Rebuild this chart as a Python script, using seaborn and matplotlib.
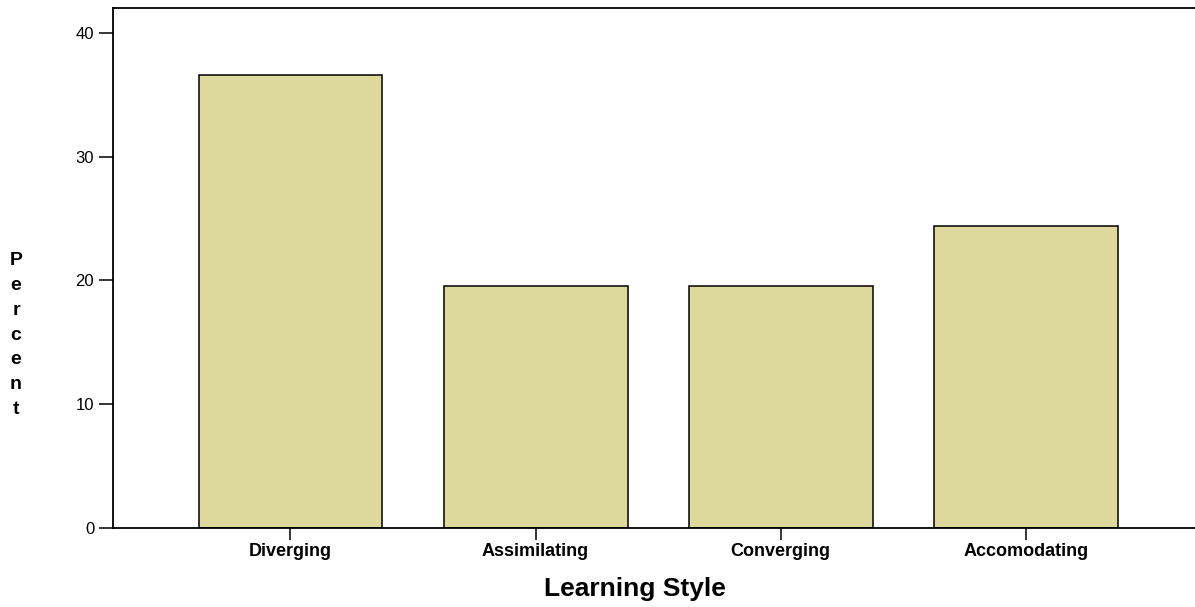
import pandas as pd
import matplotlib
matplotlib.use("Agg")
import matplotlib.pyplot as plt
import seaborn as sns

# learning style distribution (n = 41)
styles = ["Diverging", "Assimilating", "Converging", "Accomodating"]
percent = [36.59, 19.51, 19.51, 24.39]
yticks = [0, 10, 20, 30, 40]

df = pd.DataFrame({"style": styles, "percent": percent})

sns.set_style("ticks")
plt.rcParams['font.family'] = ['Liberation Sans', 'DejaVu Sans']
plt.rcParams['text.color'] = 'black'
plt.rcParams['axes.labelcolor'] = 'black'

fig = plt.figure(figsize=(11.95, 6.07), dpi=100)
ax = fig.add_axes([113 / 1195, 79 / 607, 1 - 113 / 1195, 520 / 607])

sns.barplot(data=df, x="style", y="percent", color="#ddd89b", saturation=1,
            edgecolor="black", linewidth=1.1, width=0.75, ax=ax)

ax.set_xlim(-0.724, 3.69)
ax.set_ylim(0, 42)
ax.set_yticks(yticks)
ax.set_yticklabels([str(t) for t in yticks], fontsize=12)
ax.set_xticks(range(len(styles)))
ax.set_xticklabels(styles, fontsize=13, fontweight="bold")

ax.tick_params(axis="y", direction="out", length=10, width=1.1, pad=3.5,
               colors="black", labelcolor="black")
ax.tick_params(axis="x", direction="out", length=8.5, width=1.1, pad=2,
               colors="black", labelcolor="black")

for s in ["left", "bottom", "top"]:
    ax.spines[s].set_visible(True)
    ax.spines[s].set_color("black")
    ax.spines[s].set_linewidth(1.3)
ax.spines["right"].set_visible(False)

ax.set_xlabel("Learning Style", fontsize=19, fontweight="bold", labelpad=12, color="black")
ax.xaxis.set_label_coords((635 - 113) / 1082, -0.095)
ax.set_ylabel("")

fig.text(16 / 1195, 1 - 335 / 607, "P\ne\nr\nc\ne\nn\nt", ha="center", va="center",
         fontsize=14, fontweight="bold", linespacing=1.6, multialignment="center",
         color="black")

fig.savefig("out.png", dpi=100)
